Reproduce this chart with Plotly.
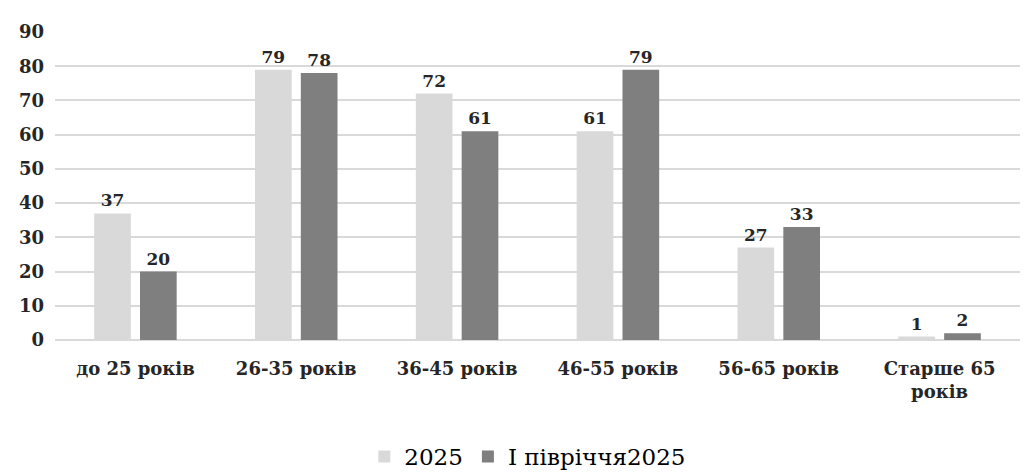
import plotly.graph_objects as go

categories = ["до 25 років", "26-35 років", "36-45 років", "46-55 років", "56-65 років", "Старше 65<br>років"]
series_2025 = [37, 79, 72, 61, 27, 1]
series_h1 = [20, 78, 61, 79, 33, 2]
names = ["2025", "І півріччя2025"]
y_ticks = [0, 10, 20, 30, 40, 50, 60, 70, 80, 90]

font_serif = "DejaVu Serif"

fig = go.Figure()
for vals, name, color in [(series_2025, names[0], "#d9d9d9"), (series_h1, names[1], "#7f7f7f")]:
    fig.add_trace(go.Bar(
        x=categories, y=vals, name=name,
        marker=dict(color=color, line=dict(width=0)),
        text=vals, textposition="outside",
        textfont=dict(family=font_serif, size=17, color="#262626", weight="bold"),
        cliponaxis=False,
    ))

fig.update_layout(
    width=1026, height=473,
    margin=dict(l=55, r=6, t=32, b=133, autoexpand=False),
    paper_bgcolor="white", plot_bgcolor="white",
    barmode="group", bargap=0.43, bargroupgap=0.2,
    font=dict(family=font_serif, color="#262626"),
    legend=dict(orientation="h", x=0.49, xanchor="center", yref="container", y=0.035, yanchor="middle",
                font=dict(family=font_serif, size=23, color="#000000"),
                traceorder="normal"),
    showlegend=True,
)
fig.update_yaxes(
    range=[0, 90], tickvals=y_ticks, showgrid=True, gridcolor="#d9d9d9", gridwidth=1.5,
    zeroline=True, zerolinecolor="#d9d9d9", zerolinewidth=1.5,
    tickfont=dict(family=font_serif, size=18, color="#262626", weight="bold"), ticks="", showline=False,
    ticklabelstandoff=10,
)
fig.update_xaxes(
    tickfont=dict(family=font_serif, size=18, color="#262626", weight="bold"), ticks="", showline=False,
    ticklabelstandoff=16,
)

fig.write_html("out.html")
